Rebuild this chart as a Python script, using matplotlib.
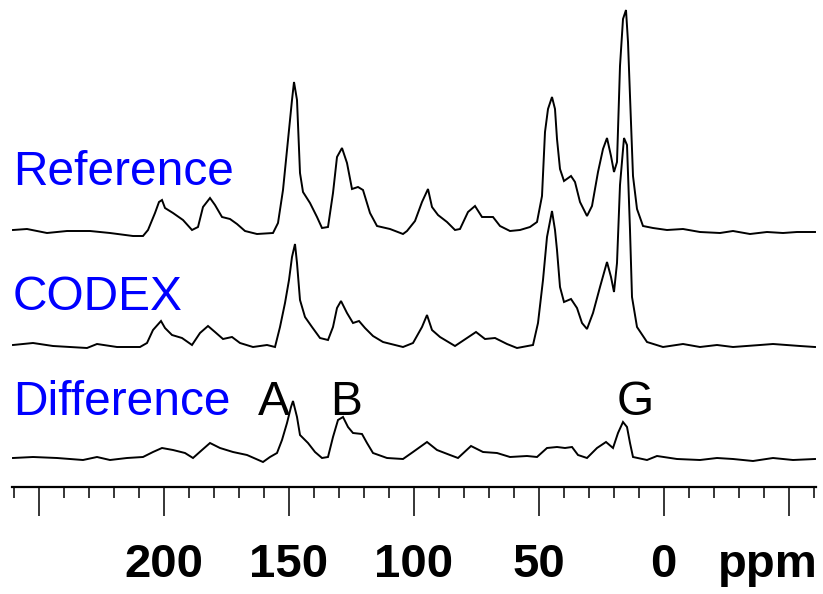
import numpy as np
import matplotlib
matplotlib.use("Agg")
import matplotlib.pyplot as plt
from matplotlib.transforms import blended_transform_factory

# ============================================================
# DATA  (chemical shift in ppm, intensity in arbitrary units)
# ============================================================

ref_ppm = [260.2, 254.6, 246.6, 238.6, 229.4, 221.4, 212.2, 208.2, 206.2, 203.4,
           201.8, 200.6, 199.4, 196.2, 192.2, 188.6, 186.2, 184.2, 181.4, 179.4,
           176.6, 173.4, 170.6, 167.4, 162.6, 156.2, 154.2, 152.2, 150.2, 148.6,
           147.8, 146.6, 145.4, 144.2, 141.4, 138.6, 136.6, 134.2, 132.2, 130.6,
           128.6, 126.6, 124.6, 122.2, 120.2, 117.4, 114.6, 109.4, 104.2, 102.6,
           99.4, 96.6, 94.2, 92.6, 90.2, 86.6, 83.4, 81.4, 78.2, 75.4,
           72.6, 68.2, 65.4, 61.4, 57.4, 53.4, 50.6, 48.6, 47.4, 46.2,
           44.6, 43.4, 42.6, 41.4, 39.8, 37.0, 35.4, 33.4, 30.6, 28.6,
           26.2, 24.2, 22.6, 21.0, 19.8, 18.6, 17.4, 16.2, 15.0, 14.2,
           13.4, 12.2, 10.6, 8.2, 4.2, -1.4, -7.8, -14.6, -22.6, -27.8,
           -34.6, -41.4, -47.8, -53.4, -60.6]
ref_int = [2, 3, -1, 1, 1, -1, -4, -4, 2, 19,
           30, 32, 24, 19, 12, 2, 5, 25, 34, 27,
           15, 13, 8, 1, -2, -1, 9, 42, 92, 132,
           150, 132, 59, 40, 29, 15, 4, 5, 39, 75,
           84, 69, 43, 45, 42, 19, 6, 3, -2, 1,
           11, 30, 43, 25, 17, 10, 2, 3, 20, 26,
           15, 15, 6, 1, 2, 5, 10, 36, 100, 123,
           135, 123, 93, 63, 51, 56, 50, 30, 16, 26,
           60, 83, 94, 76, 60, 70, 166, 213, 222, 190,
           136, 56, 23, 6, 4, 2, 3, 0, -1, 1,
           -2, 0, -1, 0, 0]

codex_ppm = [260.2, 252.2, 244.2, 230.6, 226.6, 218.6, 209.4, 206.6, 204.2, 201.0,
             199.4, 196.6, 192.6, 188.6, 185.4, 182.2, 179.4, 176.2, 172.6, 169.4,
             164.2, 158.6, 155.4, 153.4, 151.4, 149.8, 148.6, 147.4, 146.6, 145.4,
             143.4, 140.6, 137.4, 134.2, 132.2, 130.6, 129.0, 126.6, 124.2, 121.8,
             119.4, 116.2, 112.2, 104.2, 100.2, 96.6, 94.6, 92.6, 89.4, 83.4,
             78.6, 75.0, 71.4, 67.4, 62.6, 58.6, 52.2, 50.2, 48.2, 46.6,
             44.6, 43.4, 42.6, 41.4, 39.8, 37.0, 34.6, 32.6, 30.6, 28.2,
             25.4, 22.6, 21.0, 19.8, 18.6, 17.4, 15.8, 14.6, 13.4, 12.6,
             10.6, 6.6, 0.2, -7.8, -14.6, -21.4, -27.8, -38.6, -43.8, -54.6,
             -60.6]
codex_int = [0, 2, -1, -3, 1, -2, -2, 2, 15, 24,
             17, 10, 7, 0, 12, 19, 13, 6, 8, 2,
             -2, 0, -2, 18, 42, 65, 88, 101, 82, 45,
             28, 18, 7, 5, 18, 37, 44, 32, 22, 24,
             17, 9, 3, -2, 2, 18, 30, 15, 8, -1,
             7, 13, 6, 7, 1, -3, 0, 22, 65, 108,
             134, 115, 95, 58, 43, 46, 37, 22, 16, 32,
             58, 83, 68, 53, 82, 160, 207, 200, 115, 48,
             18, 3, -2, 1, -2, 0, -2, 0, 1, -1,
             -2]

diff_ppm = [260.2, 252.2, 242.6, 232.2, 226.6, 221.4, 214.6, 208.2, 204.2, 200.6,
            196.2, 191.4, 188.2, 184.6, 181.4, 177.4, 172.2, 166.6, 160.2, 157.4,
            154.6, 152.6, 150.6, 149.0, 148.2, 146.6, 145.4, 142.2, 139.4, 136.6,
            134.2, 132.2, 130.2, 128.2, 126.2, 124.2, 120.6, 118.6, 116.2, 110.6,
            104.2, 100.2, 94.6, 90.6, 85.4, 82.2, 77.0, 72.2, 66.6, 61.4,
            54.6, 50.6, 46.6, 42.6, 39.4, 36.6, 34.2, 30.6, 26.6, 23.0,
            20.2, 18.2, 16.2, 14.6, 13.4, 12.2, 6.6, 2.6, -5.4, -14.6,
            -21.4, -27.8, -35.8, -43.8, -51.8, -60.6]
diff_int = [1, 2, 1, -1, 2, -1, 1, 2, 7, 11,
            9, 6, 1, 9, 16, 11, 7, 4, -3, 2,
            6, 19, 36, 52, 58, 42, 24, 16, 7, 1,
            2, 22, 39, 42, 32, 26, 25, 16, 6, 1,
            0, 7, 17, 9, 4, 1, 13, 7, 6, 2,
            3, 2, 11, 12, 11, 12, 4, 1, 11, 17,
            11, 26, 37, 32, 16, 2, -1, 3, 0, -1,
            1, 0, -2, 1, -1, 0]

trace_names = ["Reference", "CODEX", "Difference"]

major_ticks = [250, 200, 150, 100, 50, 0, -50]
tick_labels = ["", "200", "150", "100", "50", "0", ""]

peak_labels = ["A", "B", "G"]
peak_label_ppm = [155.8, 126.8, 11.2]

# ============================================================
# PLOT
# ============================================================

W, H = 823, 594
fig = plt.figure(figsize=(W / 100, H / 100), dpi=100)

ax = fig.add_axes([12 / W, 107 / H, 804 / W, 487 / H])
ax.set_xlim(260.6, -61.0)
ax.set_ylim(0, 487)

offsets = [255, 142, 28]
traces = [(ref_ppm, ref_int), (codex_ppm, codex_int), (diff_ppm, diff_int)]

for (x, y), off in zip(traces, offsets):
    ax.plot(x, np.array(y) + off, color="black", linewidth=1.4,
            solid_joinstyle="miter")

for s in ["top", "left", "right"]:
    ax.spines[s].set_visible(False)
ax.spines["bottom"].set_linewidth(1.6)
ax.set_yticks([])

ax.set_xticks(major_ticks)
ax.set_xticklabels([])
ax.set_xticks(np.arange(-60, 261, 10), minor=True)
ax.tick_params(axis="x", which="major", direction="out", length=21,
               width=1.1, color="black")
ax.tick_params(axis="x", which="minor", direction="out", length=8,
               width=1.1, color="black")

# axis numbers, bold
trans = blended_transform_factory(ax.transData, fig.transFigure)
for val, lab in zip(major_ticks, tick_labels):
    if lab:
        ax.text(val, 1 - 577 / H, lab, transform=trans, ha="center",
                va="baseline", fontsize=34, fontweight="bold",
                family=["Liberation Sans"], clip_on=False)

fig.text(818 / W, 1 - 577 / H, "ppm", ha="right", va="baseline",
         fontsize=34, fontweight="bold", family=["Liberation Sans"])

# trace names
name_y = [185, 310, 415]
for name, py in zip(trace_names, name_y):
    fig.text(13 / W, 1 - py / H, name, ha="left", va="baseline",
             fontsize=34.5, color="#0000ff", family=["Liberation Sans"])

# peak letters
for lab, p in zip(peak_labels, peak_label_ppm):
    ax.text(p, 1 - 415 / H, lab, transform=trans, ha="center",
            va="baseline", fontsize=34.5, color="black",
            family=["Liberation Sans"])

plt.savefig("out.png", dpi=100)
plt.close()
